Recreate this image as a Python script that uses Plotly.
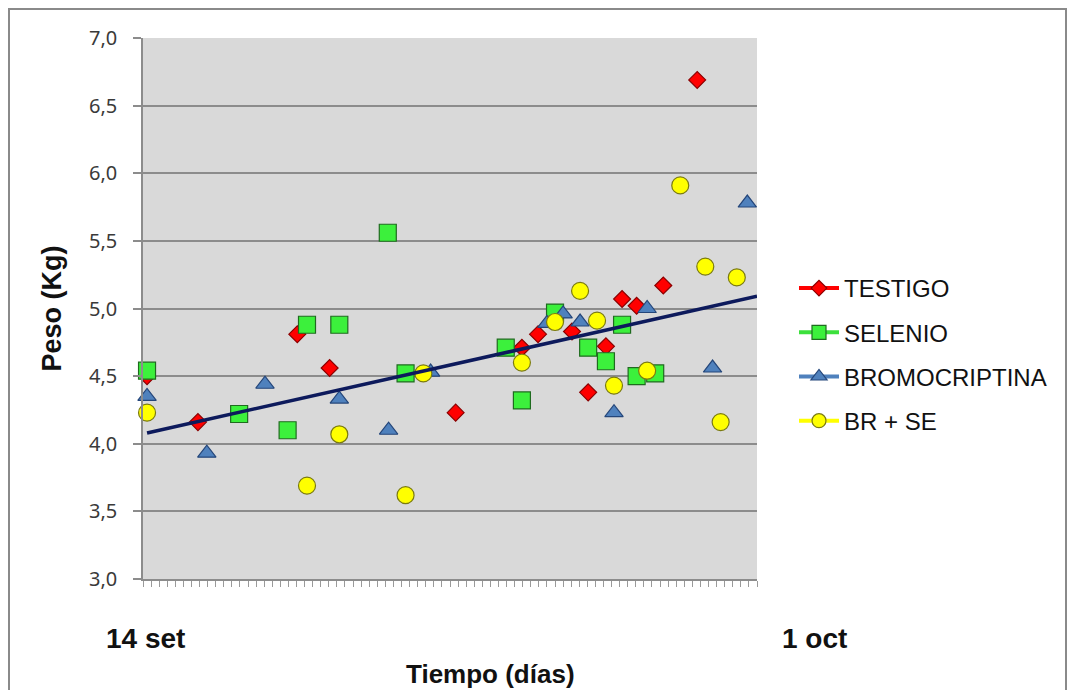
import plotly.graph_objects as go

# ---- data (x = day tick index along the time axis, y = weight in kg) ----
testigo_x = [0.5, 6.8, 19.1, 23.1, 38.7, 46.9, 48.9, 53.1, 55.1, 57.3, 59.3, 61.1, 64.4, 68.6]
testigo_y = [4.50, 4.16, 4.81, 4.56, 4.23, 4.71, 4.81, 4.83, 4.38, 4.72, 5.07, 5.02, 5.17, 6.69]

selenio_x = [0.5, 11.9, 17.9, 20.3, 24.3, 30.3, 32.5, 44.9, 46.9, 51.0, 55.1, 57.3, 59.3, 61.1, 63.4]
selenio_y = [4.54, 4.22, 4.10, 4.88, 4.88, 5.56, 4.52, 4.71, 4.32, 4.97, 4.71, 4.61, 4.88, 4.50, 4.52]

bromo_x = [0.5, 7.9, 15.1, 24.3, 30.4, 35.6, 50.0, 52.0, 54.1, 58.3, 62.4, 70.5, 74.8]
bromo_y = [4.35, 3.93, 4.44, 4.33, 4.10, 4.53, 4.89, 4.96, 4.90, 4.23, 5.00, 4.56, 5.78]

brse_x = [0.5, 20.3, 24.3, 32.5, 34.7, 46.9, 51.0, 54.1, 56.2, 58.3, 62.4, 66.5, 69.6, 71.5, 73.5]
brse_y = [4.23, 3.69, 4.07, 3.62, 4.52, 4.60, 4.90, 5.13, 4.91, 4.43, 4.54, 5.91, 5.31, 4.16, 5.23]

trend_x = [0.5, 76.0]
trend_y = [4.08, 5.09]

series_names = ["TESTIGO", "SELENIO", "BROMOCRIPTINA", "BR + SE"]
y_ticks = [3.0, 3.5, 4.0, 4.5, 5.0, 5.5, 6.0, 6.5, 7.0]
date_labels = ["14 set", "1 oct"]

# ---- styling ----
fill_colors = ["#ff0000", "#3cf03c", "#4f81bd", "#ffff00"]
edge_colors = ["#8b0000", "#1f6b1f", "#24467a", "#7a7a10"]
legend_line_colors = ["#ff0000", "#3ce03c", "#4f81bd", "#ffff00"]
symbols = ["diamond", "square", "triangle-up", "circle"]
sizes = [13, 17, 16, 17]
legend_sizes = [12, 14, 14, 14]

xs = [testigo_x, selenio_x, bromo_x, brse_x]
ys = [testigo_y, selenio_y, bromo_y, brse_y]

fig = go.Figure()

for i in range(4):
    fig.add_trace(go.Scatter(
        x=xs[i], y=ys[i], mode="markers", name=series_names[i], showlegend=False,
        marker=dict(symbol=symbols[i], size=sizes[i], color=fill_colors[i],
                    line=dict(color=edge_colors[i], width=1.2)),
        cliponaxis=False,
    ))

fig.add_trace(go.Scatter(
    x=trend_x, y=trend_y, mode="lines", showlegend=False,
    line=dict(color="#0d1a5c", width=3.5),
))

# legend-only traces (line + marker swatches)
for i in range(4):
    fig.add_trace(go.Scatter(
        x=[None], y=[None], mode="lines+markers", name=series_names[i],
        legendgroup=series_names[i],
        line=dict(color=legend_line_colors[i], width=4),
        marker=dict(symbol=symbols[i], size=legend_sizes[i], color=fill_colors[i],
                    line=dict(color=edge_colors[i], width=1.2)),
    ))

L, R, T, B = 143, 316, 38, 111
W, H = 1073, 690
pw = W - L - R
ph = H - T - B

def px_x(p):
    return (p - L) / pw

def px_y(p):
    return (H - B - p) / ph

fig.update_layout(
    width=W, height=H,
    margin=dict(l=L, r=R, t=T, b=B, pad=0),
    paper_bgcolor="white",
    plot_bgcolor="#d9d9d9",
    separators=",.",
    showlegend=True,
    legend=dict(
        x=px_x(794), y=px_y(266), xanchor="left", yanchor="top",
        font=dict(family="Liberation Sans, Arial, sans-serif", size=24, color="#111111"),
        tracegroupgap=10, bgcolor="rgba(0,0,0,0)", itemwidth=40,
    ),
    xaxis=dict(
        range=[0, 76], dtick=1, tick0=0, showticklabels=False,
        ticks="outside", ticklen=6, tickcolor="#9a9a9a", tickwidth=1,
        showgrid=False, zeroline=False,
        showline=True, linecolor="#8c8c8c", linewidth=1.5,
    ),
    yaxis=dict(
        range=[3.0, 7.0], tickvals=y_ticks, tickformat=".1f",
        ticks="outside", ticklen=8, tickcolor="#8c8c8c", tickwidth=1.5,
        ticklabelstandoff=12,
        showgrid=True, gridcolor="#8c8c8c", gridwidth=1.5,
        zeroline=False, showline=True, linecolor="#8c8c8c", linewidth=1.5,
        tickfont=dict(family="Noto Sans, Open Sans, sans-serif", size=20, color="#3a3a3a"),
        title=dict(text="<b>Peso (Kg)</b>", standoff=20,
                   font=dict(family="Liberation Sans, Arial, sans-serif", size=27, color="#111111")),
    ),
    shapes=[dict(
        type="rect", xref="paper", yref="paper",
        x0=px_x(9), x1=px_x(1066), y0=px_y(740), y1=px_y(9),
        line=dict(color="#8a8a8a", width=2), fillcolor="rgba(0,0,0,0)", layer="below",
    )],
    annotations=[
        dict(text="<b>" + date_labels[0] + "</b>", xref="paper", yref="paper",
             x=px_x(145), y=px_y(638), xanchor="center", yanchor="middle", showarrow=False,
             font=dict(family="Liberation Sans Narrow, Arial Narrow, Liberation Sans, sans-serif", size=28, color="#111111")),
        dict(text="<b>" + date_labels[1] + "</b>", xref="paper", yref="paper",
             x=px_x(814), y=px_y(638), xanchor="center", yanchor="middle", showarrow=False,
             font=dict(family="Liberation Sans Narrow, Arial Narrow, Liberation Sans, sans-serif", size=28, color="#111111")),
        dict(text="<b>Tiempo (días)</b>", xref="paper", yref="paper",
             x=px_x(490), y=px_y(674), xanchor="center", yanchor="middle", showarrow=False,
             font=dict(family="Liberation Sans Narrow, Arial Narrow, Liberation Sans, sans-serif", size=26, color="#111111")),
    ],
)

fig.write_html("out.html")
